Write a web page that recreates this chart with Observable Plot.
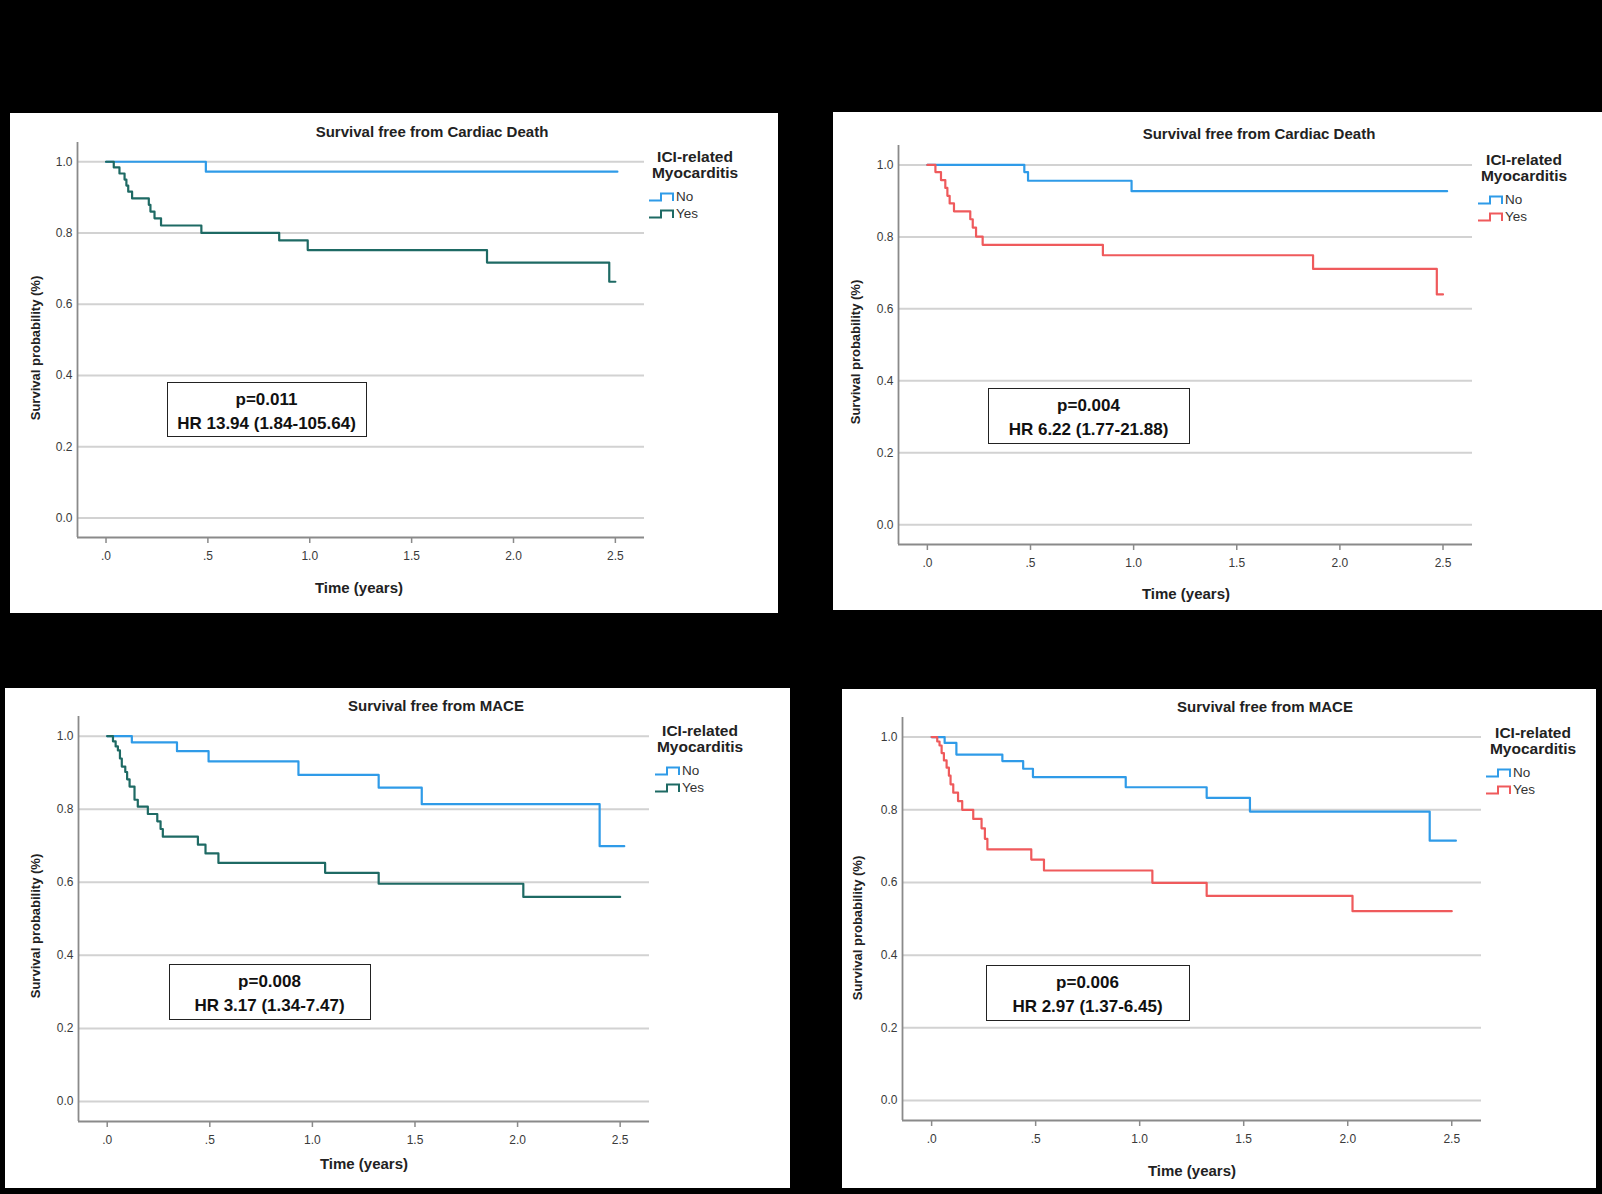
<!DOCTYPE html>
<html><head><meta charset="utf-8">
<script src="https://cdn.jsdelivr.net/npm/d3@7"></script>
<script src="https://cdn.jsdelivr.net/npm/@observablehq/plot@0.6"></script>
<style>
html,body{margin:0;padding:0;background:#000;}
body{width:1602px;height:1194px;position:relative;overflow:hidden;font-family:"Liberation Sans",Arial,sans-serif;}
.panel{position:absolute;background:#fff;overflow:hidden;}
.panel svg.plot{position:absolute;left:0;top:0;}
.t{position:absolute;white-space:nowrap;color:#222;line-height:1;}
.box{position:absolute;border:1.5px solid #222;background:#fff;box-sizing:border-box;}
</style></head><body>
<script>
// ---------- data ----------
const groups = ["No", "Yes"];
const titles = ["Survival free from Cardiac Death", "Survival free from Cardiac Death", "Survival free from MACE", "Survival free from MACE"];
const pValues = ["p=0.011", "p=0.004", "p=0.008", "p=0.006"];
const hrTexts = ["HR 13.94 (1.84-105.64)", "HR 6.22 (1.77-21.88)", "HR 3.17 (1.34-7.47)", "HR 2.97 (1.37-6.45)"];
const legendTitle = ["ICI-related", "Myocarditis"];
const xLabel = "Time (years)";
const yLabel = "Survival probability (%)";
const xTicks = [0, 0.5, 1, 1.5, 2, 2.5];
const xTickLabels = [".0", ".5", "1.0", "1.5", "2.0", "2.5"];
const yTicks = [0, 0.2, 0.4, 0.6, 0.8, 1.0];
const yTickLabels = ["0.0", "0.2", "0.4", "0.6", "0.8", "1.0"];

// Panel A: cardiac death
const cdA_noTime = [0, 0.49, 2.51];
const cdA_noSurv = [1.0, 0.972, 0.972];
const cdA_yesTime = [0, 0.038, 0.066, 0.091, 0.100, 0.109, 0.128, 0.210, 0.218, 0.238, 0.270, 0.468, 0.850, 0.990, 1.870, 2.470, 2.500];
const cdA_yesSurv = [1.0, 0.984, 0.967, 0.950, 0.933, 0.916, 0.897, 0.879, 0.860, 0.841, 0.821, 0.800, 0.779, 0.752, 0.717, 0.663, 0.663];

// Panel B: cardiac death
const cdB_noTime = [0, 0.470, 0.488, 0.990, 2.520];
const cdB_noSurv = [1.0, 0.980, 0.956, 0.927, 0.927];
const cdB_yesTime = [0, 0.039, 0.066, 0.087, 0.097, 0.108, 0.129, 0.208, 0.220, 0.236, 0.268, 0.851, 1.870, 2.470, 2.500];
const cdB_yesSurv = [1.0, 0.980, 0.958, 0.936, 0.914, 0.893, 0.871, 0.849, 0.826, 0.801, 0.778, 0.749, 0.711, 0.640, 0.640];

// Panel C: MACE
const maC_noTime = [0, 0.120, 0.340, 0.494, 0.932, 1.323, 1.533, 2.400, 2.520];
const maC_noSurv = [1.0, 0.983, 0.959, 0.931, 0.894, 0.859, 0.814, 0.699, 0.699];
const maC_yesTime = [0, 0.028, 0.041, 0.052, 0.062, 0.071, 0.088, 0.097, 0.109, 0.133, 0.149, 0.198, 0.244, 0.260, 0.271, 0.442, 0.479, 0.542, 1.062, 1.323, 2.028, 2.500];
const maC_yesSurv = [1.0, 0.986, 0.972, 0.961, 0.939, 0.917, 0.902, 0.882, 0.862, 0.826, 0.807, 0.787, 0.767, 0.746, 0.725, 0.703, 0.679, 0.653, 0.626, 0.596, 0.560, 0.560];

// Panel D: MACE
const maD_noTime = [0, 0.0625, 0.119, 0.340, 0.440, 0.487, 0.933, 1.322, 1.530, 2.394, 2.520];
const maD_noSurv = [1.0, 0.984, 0.952, 0.934, 0.913, 0.890, 0.862, 0.833, 0.795, 0.715, 0.715];
const maD_yesTime = [0, 0.027, 0.038, 0.048, 0.059, 0.072, 0.083, 0.091, 0.104, 0.127, 0.147, 0.200, 0.240, 0.256, 0.268, 0.479, 0.540, 1.061, 1.322, 2.023, 2.500];
const maD_yesSurv = [1.0, 0.988, 0.977, 0.956, 0.936, 0.916, 0.894, 0.870, 0.847, 0.824, 0.800, 0.775, 0.749, 0.720, 0.691, 0.663, 0.633, 0.599, 0.563, 0.521, 0.521];

// ---------- styles / layout ----------
const BLUE = "#2f9be8", TEAL = "#1e6a64", RED = "#ef5a5c";
const xDomain = [-0.14, 2.643];
const yDomain = [-0.055, 1.054];

const layouts = [
  {L:10,  T:113, W:768, H:500, m:{top:29, right:134, bottom:76, left:67}, title:[422,18], leg:[685,44,60], sym:[639,84,101], box:[157,269,200,55], ylab:[25,235], xlab:[349,474],
   no:[cdA_noTime, cdA_noSurv], yes:[cdA_yesTime, cdA_yesSurv], yesColor: TEAL},
  {L:833, T:112, W:769, H:498, m:{top:33, right:130, bottom:66, left:65}, title:[426,21], leg:[691,48,64], sym:[645,88,105], box:[155,276,202,56], ylab:[22,240], xlab:[353,481],
   no:[cdB_noTime, cdB_noSurv], yes:[cdB_yesTime, cdB_yesSurv], yesColor: RED},
  {L:5,   T:688, W:785, H:500, m:{top:28, right:141, bottom:67, left:73}, title:[431,17], leg:[695,43,59], sym:[650,83,100], box:[164,276,202,56], ylab:[30,238], xlab:[359,475],
   no:[maC_noTime, maC_noSurv], yes:[maC_yesTime, maC_yesSurv], yesColor: TEAL},
  {L:842, T:689, W:754, H:499, m:{top:28, right:115, bottom:68, left:60}, title:[423,17], leg:[691,44,60], sym:[644,84,101], box:[144,276,204,56], ylab:[15,239], xlab:[350,481],
   no:[maD_noTime, maD_noSurv], yes:[maD_yesTime, maD_yesSurv], yesColor: RED}
];

function addText(parent, str, cx, cy, size, weight, align = "center", color = "#222") {
  const d = document.createElement("div");
  d.className = "t";
  d.textContent = str;
  d.style.fontSize = size + "px";
  d.style.fontWeight = weight;
  d.style.color = color;
  d.style.left = cx + "px";
  d.style.top = cy + "px";
  d.style.transform = align === "center" ? "translate(-50%,-50%)" : "translate(0,-50%)";
  parent.appendChild(d);
  return d;
}

function series(times, survs, group) {
  return times.map((t, i) => ({t, s: survs[i], group}));
}

layouts.forEach((c, i) => {
  const panel = document.createElement("div");
  panel.className = "panel";
  Object.assign(panel.style, {left: c.L + "px", top: c.T + "px", width: c.W + "px", height: c.H + "px"});
  document.body.appendChild(panel);

  const data = [...series(c.no[0], c.no[1], groups[0]), ...series(c.yes[0], c.yes[1], groups[1])];

  const svg = Plot.plot({
    width: c.W, height: c.H,
    marginTop: c.m.top, marginRight: c.m.right, marginBottom: c.m.bottom, marginLeft: c.m.left,
    x: {domain: xDomain, axis: null},
    y: {domain: yDomain, axis: null},
    color: {domain: groups, range: [BLUE, c.yesColor]},
    style: {fontFamily: "'Liberation Sans', Arial, sans-serif", fontSize: "12px", color: "#3a3a3a", background: "transparent", overflow: "visible"},
    marks: [
      Plot.ruleY(yTicks, {stroke: "#d2d2d2", strokeWidth: 2}),
      Plot.axisY(yTicks, {tickSize: 0, tickPadding: 5, tickFormat: d => yTickLabels[yTicks.indexOf(d)], label: null, fontSize: 12}),
      Plot.axisX(xTicks, {tickSize: 6, tickPadding: 8, stroke: "#8a8a8a", strokeWidth: 1.5, tickFormat: d => xTickLabels[xTicks.indexOf(d)], label: null, fontSize: 12}),
      Plot.ruleX([xDomain[0]], {stroke: "#8a8a8a", strokeWidth: 1.8}),
      Plot.ruleY([yDomain[0]], {stroke: "#8a8a8a", strokeWidth: 1.8}),
      Plot.line(data, {x: "t", y: "s", z: "group", stroke: "group", curve: "step-after", strokeWidth: 2.2})
    ]
  });
  svg.classList.add("plot");
  panel.appendChild(svg);

  // title
  addText(panel, titles[i], c.title[0], c.title[1], 15, "bold");
  // axis labels
  addText(panel, xLabel, c.xlab[0], c.xlab[1], 15, "bold");
  const yl = addText(panel, yLabel, c.ylab[0], c.ylab[1], 13, "bold");
  yl.style.transform = "translate(-50%,-50%) rotate(-90deg)";
  // legend
  addText(panel, legendTitle[0], c.leg[0], c.leg[1], 15.5, "bold");
  addText(panel, legendTitle[1], c.leg[0], c.leg[2], 15.5, "bold");
  [BLUE, c.yesColor].forEach((col, k) => {
    const y = c.sym[1 + k];
    const s = document.createElementNS("http://www.w3.org/2000/svg", "svg");
    s.setAttribute("width", 26); s.setAttribute("height", 12);
    s.style.position = "absolute";
    s.style.left = c.sym[0] + "px";
    s.style.top = (y - 6) + "px";
    const p = document.createElementNS("http://www.w3.org/2000/svg", "path");
    p.setAttribute("d", "M0,9.5 H12 V2.5 H24 V10");
    p.setAttribute("fill", "none");
    p.setAttribute("stroke", col);
    p.setAttribute("stroke-width", 2);
    s.appendChild(p);
    panel.appendChild(s);
    addText(panel, groups[k], c.sym[0] + 27, y, 13.5, "normal", "left", "#333");
  });
  // stats box
  const b = document.createElement("div");
  b.className = "box";
  Object.assign(b.style, {left: c.box[0] + "px", top: c.box[1] + "px", width: c.box[2] + "px", height: c.box[3] + "px"});
  panel.appendChild(b);
  addText(b, pValues[i], c.box[2] / 2 - 1.5, 16, 17, "bold", "center", "#111");
  addText(b, hrTexts[i], c.box[2] / 2 - 1.5, 40, 17, "bold", "center", "#111");
});
</script>
</body></html>
